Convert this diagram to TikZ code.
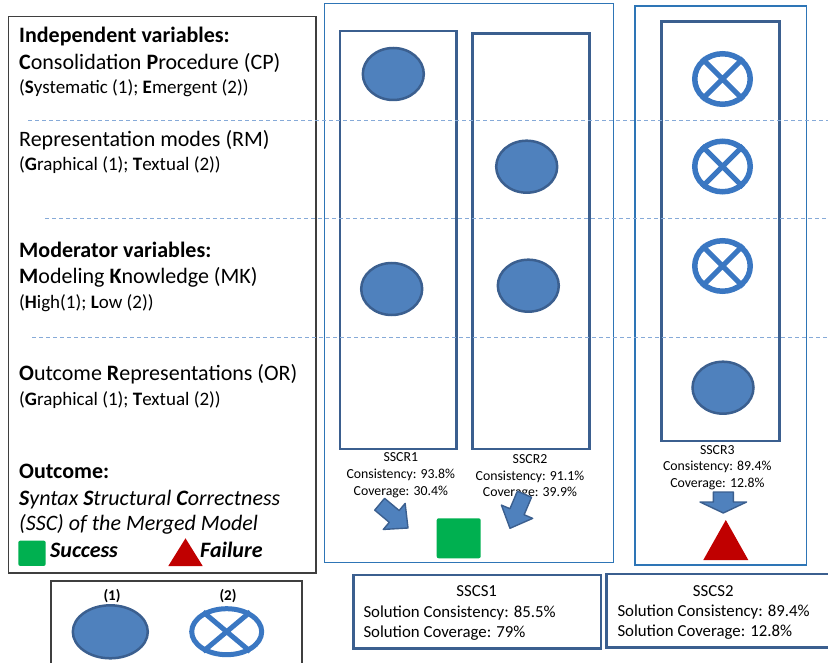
\documentclass[tikz,border=0pt]{standalone}
\usepackage{fontspec}
\setmainfont{Carlito}
\usetikzlibrary{shapes.geometric}
\definecolor{shapeblue}{HTML}{4F81BD}
\definecolor{shapeedge}{HTML}{3B5F8F}
\definecolor{ringblue}{HTML}{3A77C2}
\definecolor{trialblue}{HTML}{2E75B6}
\definecolor{dashblue}{HTML}{86AAD8}
\definecolor{panelgray}{HTML}{3F3F3F}
\definecolor{okgreen}{HTML}{00B050}
\definecolor{failred}{HTML}{C00000}

\begin{document}
\begin{tikzpicture}[x=1pt, y=-1pt,
    panel/.style={draw=panelgray, line width=1.2pt},
    trial/.style={draw=trialblue, line width=1.1pt},
    colbox/.style={draw=shapeedge, line width=2.8pt},
    divider/.style={draw=dashblue, line width=1.4pt, dash pattern=on 4pt off 3pt},
    blob/.style={ellipse, draw=shapeedge, fill=shapeblue, line width=2.5pt, inner sep=0pt, minimum width=61pt, minimum height=52pt},
    xring/.style={ellipse, draw=ringblue, line width=5.5pt, inner sep=0pt, minimum width=55.5pt, minimum height=50.5pt},
    xcross/.style={draw=ringblue, line width=5pt},
    okbox/.style={fill=okgreen, rounded corners=2pt, inner sep=0pt},
    arrowfill/.style={draw=shapeedge, fill=shapeblue, line width=1.4pt, line join=round},
    big/.style={inner sep=0pt, anchor=base west, font=\fontsize{22}{26}\selectfont},
    sub/.style={inner sep=0pt, anchor=base west, font=\fontsize{19}{23}\selectfont},
    stat/.style={inner sep=0pt, anchor=base, font=\fontsize{13.8}{16}\selectfont},
    sol/.style={inner sep=0pt, anchor=base west, font=\fontsize{16.8}{20}\selectfont}]
    \useasboundingbox (0,0) rectangle (828,663);

    \draw[panel] (8.3,16.7) rectangle (316,573);
    \draw[panel] (51,581) rectangle (302,690);
    \draw[trial] (324.3,3.3) rectangle (613.3,562.7);
    \draw[trial] (635,6) rectangle (806.7,565);
    \draw[colbox] (340,31) rectangle (456.7,449);
    \draw[colbox] (472.3,33.3) rectangle (589.3,449);
    \draw[colbox] (661.7,21.7) rectangle (779.3,441);
    \draw[colbox] (353.3,575) rectangle (601,648.3);
    \draw[colbox] (606.7,574) rectangle (840,647.7);
    \foreach \y/\x in {120.5/28, 218.3/45, 337.7/32}
        \draw[divider] (\x,\y) -- (828,\y);

    \node[big] (iv) at (19,42.7) {\textbf{Independent variables:}};
    \node[big] (cp) at (19,69.3) {\textbf{C}onsolidation \textbf{P}rocedure (CP)};
    \node[sub] (cpv) at (19,93.3) {(\textbf{S}ystematic (1); \textbf{E}mergent (2))};
    \node[big] (rm) at (19,146.7) {Representation modes (RM)};
    \node[sub] (rmv) at (19,170.7) {(\textbf{G}raphical (1); \textbf{T}extual (2))};
    \node[big] (mv) at (19,257.3) {\textbf{Moderator variables:}};
    \node[big] (mk) at (19,284) {\textbf{M}odeling \textbf{K}nowledge (MK)};
    \node[sub] (mkv) at (19,308.3) {(\textbf{H}igh(1); \textbf{L}ow (2))};
    \node[big] (or) at (19,380.7) {\textbf{O}utcome \textbf{R}epresentations (OR)};
    \node[sub] (orv) at (19,405) {(\textbf{G}raphical (1); \textbf{T}extual (2))};
    \node[big] (oc) at (19,478.3) {\textbf{Outcome:}};
    \node[big] (ssc) at (19,505) {\textit{\textbf{S}yntax \textbf{S}tructural \textbf{C}orrectness}};
    \node[big] (sscm) at (19,530) {\textit{(SSC) of the Merged Model}};
    \node[okbox, minimum width=27.4pt, minimum height=25.3pt] (oksq) at (32,553.3) {};
    \node[big] (oktxt) at (50,557.7) {\textbf{\textit{Success}}};
    \fill[failred] (168.3,566) -- (185.5,538.3) -- (202.7,566) -- cycle;
    \node[big] (failtxt) at (200,557.7) {\textbf{\textit{Failure}}};

    \node[inner sep=0pt, anchor=base, font=\bfseries\fontsize{15}{18}\selectfont] (k1) at (112,600) {(1)};
    \node[inner sep=0pt, anchor=base, font=\bfseries\fontsize{15}{18}\selectfont] (k2) at (228,600) {(2)};
    \node[blob, minimum width=75pt, minimum height=53pt] (l1) at (110.3,631.8) {};
    \node[xring, line width=5pt, minimum width=70pt, minimum height=46pt] (l2) at (226.7,631.7) {};
    \draw[xcross] (l2.40) -- (l2.220) (l2.140) -- (l2.-40);

    \node[blob] (a1) at (393.3,74) {};
    \node[blob] (a2) at (391.7,289) {};
    \node[blob] (b1) at (526.7,166.7) {};
    \node[blob] (b2) at (528.3,285.7) {};
    \node[blob] (c4) at (723,387.7) {};
    \foreach \n/\y in {1/79, 2/166.5, 3/266} {
        \node[xring] (c\n) at (722.5,\y) {};
        \draw[xcross] (c\n.45) -- (c\n.225) (c\n.135) -- (c\n.-45);
    }

    \foreach \n/\x/\y/\con/\cov in {1/400.8/461.7/93.8/30.4, 2/530/463.3/91.1/39.9, 3/717.3/454/89.4/12.8} {
        \node[stat] (r\n) at (\x,\y) {SSCR\n};
        \node[stat] (rc\n) at (\x,\y+16.7) {Consistency: \con\%};
        \node[stat] (rv\n) at (\x,\y+33.4) {Coverage: \cov\%};
    }
    \foreach \x/\y/\a in {408/528/-40, 510/528.3/-113}
        \draw[arrowfill, shift={(\x,\y)}, rotate=\a] (0,0) -- (-18,17) -- (-18,7.7) -- (-37,7.7) -- (-37,-7.7) -- (-18,-7.7) -- (-18,-17) -- cycle;
    \draw[arrowfill, shift={(723.3,513)}, rotate=-90] (0,0) -- (-11,23.3) -- (-11,10) -- (-21,10) -- (-21,-10) -- (-11,-10) -- (-11,-23.3) -- cycle;
    \node[okbox, minimum width=44pt, minimum height=40pt] (win) at (458.7,538.3) {};
    \fill[failred] (703.3,560) -- (725.8,520) -- (748.3,560) -- cycle;

    \node[sol, anchor=base] (s1) at (476.7,596.7) {SSCS1};
    \node[sol] (s1c) at (363.3,617.3) {Solution Consistency: 85.5\%};
    \node[sol] (s1v) at (363.3,637.3) {Solution Coverage: 79\%};
    \node[sol, anchor=base] (s2) at (713.3,596.7) {SSCS2};
    \node[sol] (s2c) at (617.3,616.7) {Solution Consistency: 89.4\%};
    \node[sol] (s2v) at (617.3,636.7) {Solution Coverage: 12.8\%};
\end{tikzpicture}
\end{document}
